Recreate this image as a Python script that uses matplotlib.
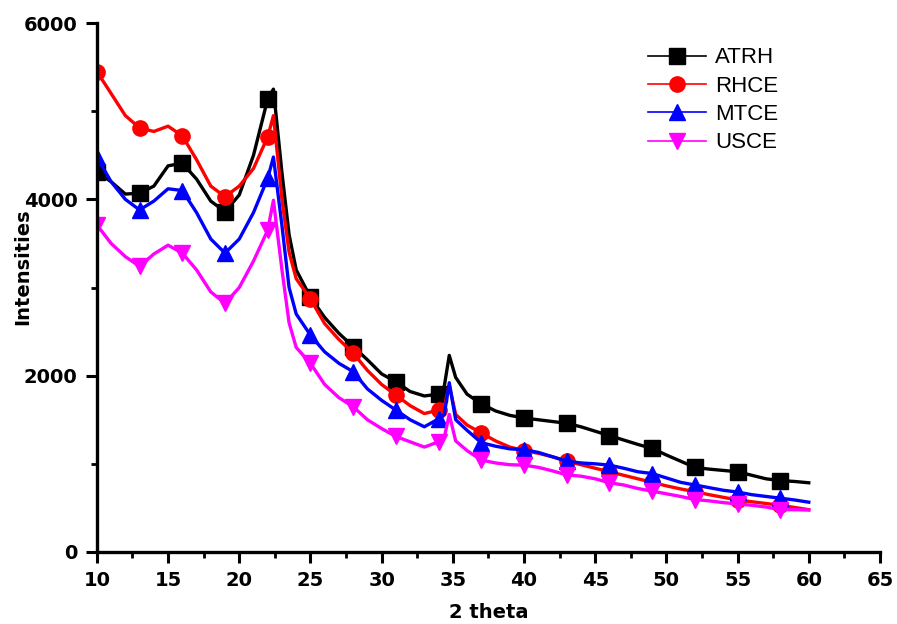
import matplotlib

matplotlib.use("Agg")
import matplotlib.pyplot as plt
from matplotlib.ticker import MultipleLocator

plt.rcParams["font.family"] = ["Liberation Sans", "DejaVu Sans"]

# 2 theta grid (degrees)
two_theta = [
    10, 11, 12, 13, 14, 15, 16, 17, 18, 19, 20, 21, 22, 22.4, 23, 23.5, 24,
    25, 26, 27, 28, 29, 30, 31, 32, 33, 34, 34.4, 34.75, 35.2, 36, 37, 38,
    39, 40, 41, 42, 43, 44, 45, 46, 47, 48, 49, 50, 51, 52, 53, 54, 55, 56,
    57, 58, 59, 60,
]

atrh = [
    4310, 4200, 4060, 4070, 4150, 4380, 4410, 4230, 3980, 3860, 4050, 4500,
    5140, 5250, 4300, 3600, 3200, 2890, 2660, 2480, 2330, 2180, 2020, 1930,
    1820, 1770, 1790, 1880, 2230, 1980, 1790, 1680, 1600, 1550, 1520, 1500,
    1480, 1460, 1420, 1370, 1320, 1270, 1220, 1175, 1100, 1030, 960, 940,
    925, 910, 870, 830, 810, 800, 785,
]
rhce = [
    5450, 5200, 4950, 4810, 4770, 4830, 4720, 4450, 4150, 4030, 4150, 4350,
    4710, 4950, 4000, 3400, 3100, 2870, 2590, 2410, 2257, 2060, 1900, 1780,
    1660, 1570, 1610, 1650, 1890, 1560, 1440, 1350, 1260, 1190, 1150, 1120,
    1080, 1030, 990, 950, 910, 870, 830, 790, 750, 715, 685, 650, 620, 590,
    570, 550, 530, 505, 480,
]
mtce = [
    4480, 4200, 4000, 3880, 3980, 4120, 4100, 3850, 3550, 3390, 3550, 3850,
    4240, 4480, 3700, 3000, 2700, 2460, 2270, 2140, 2045, 1850, 1720, 1610,
    1500, 1420, 1510, 1560, 1920, 1500, 1380, 1240, 1200, 1170, 1160, 1130,
    1080, 1030, 1010, 1000, 985, 950, 910, 890, 840, 790, 760, 730, 700, 680,
    650, 630, 610, 590, 565,
]
usce = [
    3710, 3500, 3350, 3240, 3380, 3480, 3390, 3200, 2950, 2820, 3000, 3300,
    3650, 3990, 3200, 2600, 2320, 2140, 1900, 1750, 1648, 1500, 1400, 1310,
    1250, 1190, 1250, 1300, 1560, 1260, 1150, 1043, 1010, 990, 985, 960, 920,
    875, 860, 830, 785, 760, 720, 690, 660, 630, 595, 580, 560, 545, 530,
    510, 480, 480, 476,
]

series_names = ["ATRH", "RHCE", "MTCE", "USCE"]
series_values = [atrh, rhce, mtce, usce]
marker_positions = [10, 13, 16, 19, 22, 25, 28, 31, 34, 37, 40, 43, 46, 49, 52, 55, 58]

colors = ["#000000", "#ff0000", "#0000ff", "#ff00ff"]
markers = ["s", "o", "^", "v"]

mark_idx = [two_theta.index(p) for p in marker_positions]

fig = plt.figure(figsize=(8.97, 6.24), dpi=100)
ax = fig.add_axes([0.108, 0.1154, 0.873, 0.8477])

for name, vals, col, mk in zip(series_names, series_values, colors, markers):
    ax.plot(two_theta, vals, color=col, linewidth=2.4, marker=mk, markersize=11,
            markevery=mark_idx, label=name)

ax.set_xlim(10, 65)
ax.set_ylim(0, 6000)
ax.xaxis.set_major_locator(MultipleLocator(5))
ax.xaxis.set_minor_locator(MultipleLocator(2.5))
ax.yaxis.set_major_locator(MultipleLocator(2000))
ax.yaxis.set_minor_locator(MultipleLocator(1000))

for side in ["top", "right"]:
    ax.spines[side].set_visible(False)
for side in ["left", "bottom"]:
    ax.spines[side].set_linewidth(2.4)

ax.tick_params(which="major", direction="out", length=8, width=2.2, labelsize=14, pad=6)
ax.tick_params(which="minor", direction="out", length=4, width=2.0)
for lbl in ax.get_xticklabels() + ax.get_yticklabels():
    lbl.set_fontweight("bold")
    lbl.set_family("DejaVu Sans")

ax.set_xlabel("2 theta", fontsize=14, fontweight="bold", family="DejaVu Sans", labelpad=9)
ax.set_ylabel("Intensities", fontsize=14, fontweight="bold", family="DejaVu Sans")
ax.yaxis.set_label_coords(-0.083, 0.54)

leg = ax.legend(loc="upper left", bbox_to_anchor=(0.69, 0.975), frameon=False,
                fontsize=16, handlelength=2.6, handletextpad=0.4,
                labelspacing=0.33, borderpad=0)
for h in leg.legend_handles:
    h.set_linewidth(1.2)

fig.savefig("out.png", dpi=100)
